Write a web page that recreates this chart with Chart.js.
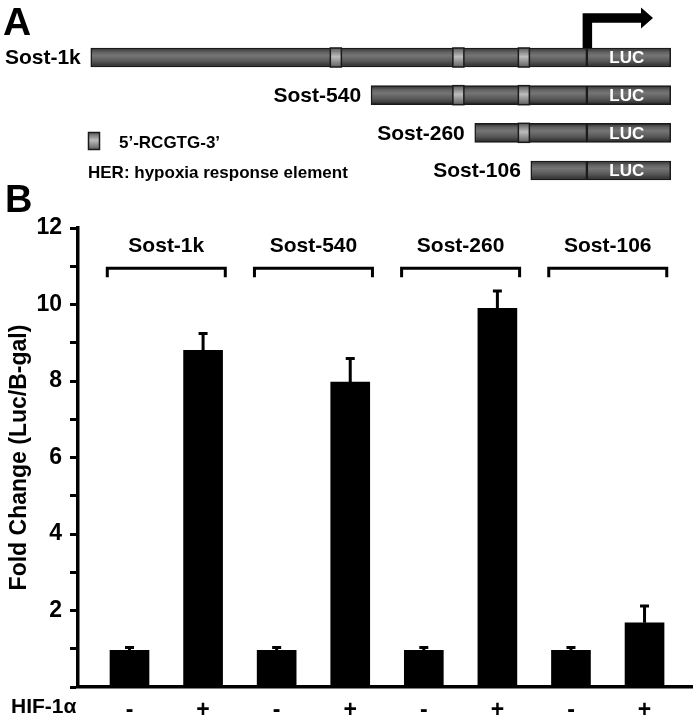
<!DOCTYPE html>
<html>
<head>
<meta charset="utf-8">
<script src="https://cdn.jsdelivr.net/npm/chart.js@4.4.0/dist/chart.umd.min.js"></script>
<style>
  html, body { margin: 0; padding: 0; background: #fff; }
  #wrap { position: relative; width: 696px; height: 720px; }
  canvas { position: absolute; left: 0; top: 0; }
</style>
</head>
<body>
<div id="wrap">
  <canvas id="chartB" width="696" height="720"></canvas>
  <canvas id="chartA" width="696" height="200"></canvas>
</div>
<script>
// ---- panel B data ----
const hifLabels = ['-', '+', '-', '+', '-', '+', '-', '+'];
const foldChange = [0.96, 8.8, 0.96, 7.97, 0.96, 9.9, 0.96, 1.68];
const foldErr = [0.07, 0.44, 0.07, 0.62, 0.07, 0.45, 0.07, 0.44];
const groupNames = ['Sost-1k', 'Sost-540', 'Sost-260', 'Sost-106'];
const yMax = 12;

// ---- panel A data (schematic map positions, not to scale; 0 = start site) ----
const constructs = ['Sost-1k', 'Sost-540', 'Sost-260', 'Sost-106'];
const promoterStart = [-1000, -435, -226, -113];
const lucEnd = 169;
const hreSites = [-506, -259, -127];

const FONT = "'Liberation Sans', Arial, sans-serif";
Chart.defaults.font.family = FONT;
Chart.defaults.color = '#000';

function bold(px) { return 'bold ' + px + 'px ' + FONT; }

// shaded grey like the drawn DNA bars
function barFill(context) {
  const chart = context.chart;
  const ys = chart.scales.y;
  if (!ys || !chart.chartArea) return '#5e5e5e';
  const yc = ys.getPixelForValue(context.dataIndex);
  const g = chart.ctx.createLinearGradient(0, yc - 9.5, 0, yc + 9.5);
  g.addColorStop(0, '#2c2c2c');
  g.addColorStop(0.22, '#626262');
  g.addColorStop(0.4, '#757575');
  g.addColorStop(0.72, '#555');
  g.addColorStop(1, '#262626');
  return g;
}

function hreBox(ctx, x, yc, w, h) {
  const g = ctx.createLinearGradient(0, yc - h / 2, 0, yc + h / 2);
  g.addColorStop(0, '#5a5a5a');
  g.addColorStop(0.45, '#bdbdbd');
  g.addColorStop(1, '#606060');
  ctx.fillStyle = g;
  ctx.fillRect(x - w / 2, yc - h / 2, w, h);
  ctx.strokeStyle = '#1a1a1a';
  ctx.lineWidth = 1.5;
  ctx.strokeRect(x - w / 2, yc - h / 2, w, h);
}

const diagramPlugin = {
  id: 'diagram',
  afterDatasetsDraw(chart) {
    const ctx = chart.ctx;
    const xs = chart.scales.x, ys = chart.scales.y;
    ctx.save();
    constructs.forEach((name, i) => {
      const yc = ys.getPixelForValue(i);
      hreSites.forEach(s => {
        if (s > promoterStart[i]) hreBox(ctx, xs.getPixelForValue(s), yc, 11, 19);
      });
      // LUC text
      ctx.fillStyle = '#fff';
      ctx.font = bold(17);
      ctx.textAlign = 'center';
      ctx.textBaseline = 'middle';
      ctx.fillText('LUC', (xs.getPixelForValue(0) + xs.getPixelForValue(lucEnd)) / 2 - 2, yc + 1);
      // construct name
      ctx.fillStyle = '#000';
      ctx.font = bold(21);
      ctx.textAlign = 'right';
      ctx.fillText(name, xs.getPixelForValue(promoterStart[i]) - 10, yc + 1);
    });

    // start-site arrow
    const x0 = xs.getPixelForValue(0) + 0.5;
    const yTop = ys.getPixelForValue(0) - 9.5;
    ctx.strokeStyle = '#000';
    ctx.lineWidth = 9.5;
    ctx.lineJoin = 'miter';
    ctx.beginPath();
    ctx.moveTo(x0, yTop);
    ctx.lineTo(x0, 18);
    ctx.lineTo(643, 18);
    ctx.stroke();
    ctx.fillStyle = '#000';
    ctx.beginPath();
    ctx.moveTo(641, 7.5);
    ctx.lineTo(653, 18);
    ctx.lineTo(641, 28.5);
    ctx.closePath();
    ctx.fill();

    // legend
    hreBox(ctx, 94, 141, 11, 17);
    ctx.fillStyle = '#000';
    ctx.font = bold(17);
    ctx.textAlign = 'left';
    ctx.textBaseline = 'middle';
    ctx.fillText('5\u2019-RCGTG-3\u2019', 119, 143);
    ctx.fillText('HER: hypoxia response element', 88, 173);

    ctx.font = bold(39);
    ctx.textBaseline = 'alphabetic';
    ctx.fillText('A', 3, 35);
    ctx.restore();
  }
};

const annotPlugin = {
  id: 'annot',
  afterDatasetsDraw(chart) {
    const ctx = chart.ctx;
    const xs = chart.scales.x, ys = chart.scales.y;
    ctx.save();
    ctx.strokeStyle = '#000';
    ctx.fillStyle = '#000';
    // error bars (upper only)
    ctx.lineWidth = 3;
    foldChange.forEach((v, i) => {
      const x = xs.getPixelForValue(i);
      const yb = ys.getPixelForValue(v);
      const yt = ys.getPixelForValue(v + foldErr[i]);
      ctx.beginPath();
      ctx.moveTo(x, yb);
      ctx.lineTo(x, yt);
      ctx.moveTo(x - 4.5, yt);
      ctx.lineTo(x + 4.5, yt);
      ctx.stroke();
    });
    // group brackets and names
    const yBr = ys.getPixelForValue(10.95);
    groupNames.forEach((name, g) => {
      const cx = (xs.getPixelForValue(2 * g) + xs.getPixelForValue(2 * g + 1)) / 2;
      ctx.beginPath();
      ctx.moveTo(cx - 59, yBr + 9);
      ctx.lineTo(cx - 59, yBr);
      ctx.lineTo(cx + 59, yBr);
      ctx.lineTo(cx + 59, yBr + 9);
      ctx.stroke();
      ctx.font = bold(21);
      ctx.textAlign = 'center';
      ctx.textBaseline = 'middle';
      ctx.fillText(name, cx, yBr - 22);
    });
    ctx.font = bold(21);
    ctx.textAlign = 'left';
    ctx.textBaseline = 'middle';
    ctx.fillText('HIF-1\u03b1', 11, 707);
    ctx.font = bold(38);
    ctx.textBaseline = 'alphabetic';
    ctx.fillText('B', 5, 212);
    ctx.restore();
  }
};

new Chart(document.getElementById('chartA').getContext('2d'), {
  type: 'bar',
  data: {
    labels: constructs,
    datasets: [
      { data: promoterStart.map(s => [s, 0]) },
      { data: constructs.map(() => [0, lucEnd]) }
    ]
  },
  options: {
    indexAxis: 'y',
    responsive: false,
    animation: false,
    grouped: false,
    barThickness: 19,
    backgroundColor: barFill,
    borderColor: '#1a1a1a',
    borderWidth: 1.5,
    borderSkipped: false,
    layout: { padding: { top: 38.67, bottom: 10.67, left: 0, right: 0 } },
    plugins: { legend: { display: false }, tooltip: { enabled: false } },
    scales: {
      x: { type: 'linear', display: false, min: -1183, max: 220 },
      y: { display: false }
    }
  },
  plugins: [diagramPlugin]
});

new Chart(document.getElementById('chartB').getContext('2d'), {
  type: 'bar',
  data: {
    datasets: [{
      data: foldChange.map((v, i) => ({ x: i, y: v })),
      backgroundColor: '#000',
      barThickness: 39
    }]
  },
  options: {
    responsive: false,
    animation: false,
    layout: { padding: { top: 228, right: 4, left: 0, bottom: 0 } },
    plugins: { legend: { display: false }, tooltip: { enabled: false } },
    scales: {
      x: {
        type: 'linear',
        offset: false,
        min: -0.7,
        max: 7.645,
        afterFit: s => { s.height = 33; },
        afterBuildTicks: s => { s.ticks = hifLabels.map((_, i) => ({ value: i })); },
        grid: { display: false },
        border: { display: true, color: '#000', width: 3.5 },
        ticks: {
          callback: v => hifLabels[v],
          font: { size: 23, weight: 'bold' },
          color: '#000',
          padding: 2,
          autoSkip: false,
          maxRotation: 0
        }
      },
      y: {
        min: 0,
        max: yMax,
        afterFit: s => { s.width = 78; },
        grid: { drawOnChartArea: false, tickLength: 8, tickWidth: 3, tickColor: '#000' },
        border: { display: true, color: '#000', width: 3.5 },
        ticks: {
          stepSize: 1,
          autoSkip: false,
          padding: 8,
          color: '#000',
          font: { size: 23, weight: 'bold' },
          callback: v => (v % 2 === 0 && v > 0) ? v : ''
        },
        title: {
          display: true,
          text: 'Fold Change (Luc/B-gal)',
          color: '#000',
          font: { size: 23, weight: 'bold' },
          padding: { top: 6, bottom: 0 }
        }
      }
    }
  },
  plugins: [annotPlugin]
});
</script>
</body>
</html>
